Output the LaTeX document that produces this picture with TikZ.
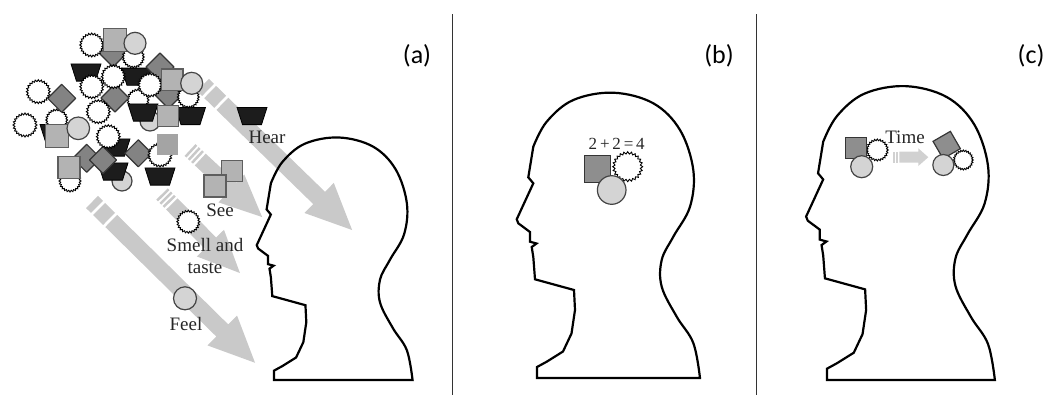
\documentclass[tikz,border=0pt]{standalone}
\usepackage{fontspec}
\setmainfont{Liberation Serif}
\newfontfamily\panelfont{Carlito}
\usetikzlibrary{calc}

\definecolor{sensegray}{HTML}{C9C9C9}
\definecolor{sqfill}{HTML}{B3B3B3}
\definecolor{sqline}{HTML}{5E5E5E}
\definecolor{sqdark}{HTML}{8E8E8E}
\definecolor{circfill}{HTML}{D4D4D4}
\definecolor{circline}{HTML}{444444}
\definecolor{diafill}{HTML}{838383}
\definecolor{dialine}{HTML}{353535}
\definecolor{trapfill}{HTML}{1C1C1C}
\definecolor{inkgray}{HTML}{262626}

\tikzset{
  headline/.style={draw=black, line width=2.2pt, line join=miter},
  gearline/.style={draw=black, line width=0.9pt, fill=white, line join=miter},
  sqshape/.style={draw=sqline, line width=1.2pt, fill=sqfill},
  sqdarkshape/.style={draw=dialine, line width=1.2pt, fill=sqdark},
  circshape/.style={draw=circline, line width=1.2pt, fill=circfill},
  diashape/.style={draw=dialine, line width=1.2pt, fill=diafill, line join=round},
  trapshape/.style={draw=black, line width=0.8pt, fill=trapfill},
  sensetext/.style={text=inkgray, font=\fontsize{19}{21}\selectfont, inner sep=0pt},
  paneltext/.style={font=\panelfont\fontsize{26}{30}\selectfont, inner sep=0pt},
  divider/.style={draw=black!80, line width=0.9pt}
}

% small shapes: centre x, centre y, size
\newcommand{\gearat}[3]{\draw[gearline, shift={(#1,#2)}] (0:#3)
  \foreach \k in {1,...,47}{ -- (\k*7.5:{#3*(1-0.15*mod(\k,2))}) } -- cycle;}
\newcommand{\sqat}[3]{\draw[sqshape, shift={(#1,#2)}] (-#3/2,-#3/2) rectangle (#3/2,#3/2);}
\newcommand{\circat}[3]{\draw[circshape] (#1,#2) circle[radius=#3];}
\newcommand{\diaat}[3]{\draw[diashape, shift={(#1,#2)}] (#3,0) -- (0,#3) -- (-#3,0) -- (0,-#3) -- cycle;}
\newcommand{\trapat}[2]{\draw[trapshape, shift={(#1,#2)}] (-15,-8.6) -- (15,-8.6) -- (9.5,8.6) -- (-9.5,8.6) -- cycle;}

% sense arrows: start x, start y, angle below horizontal, length
\newcommand{\bigsense}[4]{\begin{scope}[shift={(#1,#2)}, rotate=-#3]
  \fill[sensegray] (0,-8.5) rectangle (7,8.5);
  \fill[sensegray] (10,-8.5) rectangle (24,8.5);
  \fill[sensegray] (27,-8.5) -- (#4-46,-8.5) -- (#4-46,-21) -- (#4,0)
     -- (#4-46,21) -- (#4-46,8.5) -- (27,8.5) -- cycle;
\end{scope}}
\newcommand{\smallsense}[4]{\begin{scope}[shift={(#1,#2)}, rotate=-#3]
  \fill[sensegray] (0,-8) rectangle (2.5,8);
  \fill[sensegray] (4.5,-8) rectangle (7,8);
  \fill[sensegray] (9,-8) rectangle (11.5,8);
  \fill[sensegray] (14,-8) -- (#4-42,-8) -- (#4-42,-19) -- (#4,0)
     -- (#4-42,19) -- (#4-42,8) -- (14,8) -- cycle;
\end{scope}}

% head profile, local units, origin at the lower front corner, y upwards
\newcommand{\headpath}{(0,0) -- (0,11) -- (9.7,16.3) -- (26,26.5) -- (34.5,44.5)
  -- (38,68) -- (37,88) -- (-2,98.7) -- (-3.7,121) -- (-5.3,131) -- (-0.5,134.5)
  -- (-7,136.3) -- (-7,146) -- (-18.7,154.7) -- (-20.3,158.7) -- (-3.7,194.7)
  -- (-8.7,200.7) -- (-3.7,231.3)
  -- plot[smooth, tension=0.6] coordinates {(-3.7,231.3) (9.7,256.3) (36.3,278)
     (76.3,285.3) (116.3,274.7) (143,248) (156.3,208) (153,171.3) (136.3,141.3)
     (124.7,118) (124.7,91.3) (139.7,61.3) (156.3,35) (163,0)} -- cycle}
\newcommand{\headat}[3]{\begin{scope}[shift={(#1,#2)}, yscale=-1, scale=#3]
  \draw[headline] \headpath;
\end{scope}}

\begin{document}
\begin{tikzpicture}[x=1pt, y=-1pt]
\useasboundingbox (0,0) rectangle (1054,397);

% panel dividers
\draw[divider] (452,14) -- (452,395);
\draw[divider] (756,14) -- (756,395);

% panel labels
\node[paneltext] (labA) at (417,56) {(a)};
\node[paneltext] (labB) at (719,56) {(b)};
\node[paneltext] (labC) at (1031,56) {(c)};

% ---------- panel (a): the senses ----------
\bigsense{203}{85}{44.2}{208}
\smallsense{190}{150}{42.9}{98.5}
\smallsense{162}{194}{45.4}{111}
\bigsense{92}{202}{44.6}{229}

\headat{274}{380}{0.85}

% crowd of impressions
\circat{150}{121}{10}
\circat{122}{181}{10}
\gearat{56.7}{120}{11}
\gearat{70}{181}{11}
\gearat{138}{100}{11}

\trapat{86}{72.5}
\trapat{136.5}{76.7}
\trapat{143}{112.5}
\trapat{190.5}{116}
\trapat{115}{147.5}
\trapat{113}{171.5}
\trapat{160}{176.5}
\trapat{55}{133}

\diaat{113}{52}{15}
\diaat{160}{67}{14}
\diaat{61.7}{98.3}{14}
\diaat{115}{98}{14}
\diaat{168.5}{95}{13.5}
\diaat{86.7}{158.3}{14}
\diaat{103}{160}{13.5}
\diaat{138.3}{153.3}{13.5}

\gearat{91.7}{45}{12}
\gearat{133.3}{57}{11}
\gearat{91.7}{86.7}{12}
\gearat{113.3}{76.7}{12}
\gearat{150}{85}{12}
\gearat{188.3}{97}{11}
\gearat{38.3}{91.7}{12}
\gearat{98.3}{111.7}{12}
\gearat{25}{125}{12}
\gearat{108.3}{136.7}{12}
\gearat{160}{155}{12}

\sqat{114.7}{40}{23}
\sqat{172.2}{79.7}{21.5}
\sqat{168}{116}{21.5}
\sqat{56.7}{136}{23}
\sqat{69}{167.5}{22}
\fill[sqdark!80, shift={(167.5,144)}] (-10.5,-10.5) rectangle (10.5,10.5);

\circat{135}{43.3}{11}
\circat{191.7}{83.3}{11}
\circat{78.3}{128.3}{11.3}

% individual senses
\trapat{252}{116}
\node[sensetext] (hear) at (267,137) {Hear};
\sqat{232.2}{170.8}{21}
\sqat{215}{186}{22}
\node[sensetext] (see) at (220,210) {See};
\gearat{188.3}{221.7}{11.5}
\node[sensetext] (smell) at (205,244.5) {Smell and};
\node[sensetext] (taste) at (205,268.5) {taste};
\circat{185}{298.3}{11.5}
\node[sensetext] (feel) at (186,323.5) {Feel};

% ---------- panel (b): thinking ----------
\headat{537}{378}{1.0}
\node[sensetext, font=\fontsize{17}{19}\selectfont] (sum) at (616.7,143.5) {2\,+\,2\,=\,4};
\gearat{627.7}{166.7}{15}
\draw[sqdarkshape, shift={(597.8,168.8)}] (-13,-13.5) rectangle (13,13.5);
\circat{611.7}{190}{14.3}

% ---------- panel (c): change over time ----------
\headat{827}{380}{1.03}
\gearat{877.3}{150}{11}
\draw[sqdarkshape, shift={(856,147.8)}] (-10.3,-10.5) rectangle (10.3,10.5);
\circat{861.7}{166.7}{11}

\node[sensetext] (time) at (905,137.3) {Time};
\fill[sensegray!85] (893,151.7) rectangle (894.6,162.7);
\fill[sensegray!85] (896.2,151.7) rectangle (897.8,162.7);
\fill[sensegray!85] (899.4,151.7) -- (918.3,151.7) -- (918.3,148.3) -- (928.3,157.2)
   -- (918.3,166) -- (918.3,162.7) -- (899.4,162.7) -- cycle;

\draw[sqdarkshape, shift={(946.7,145)}, rotate=30] (-10,-10) rectangle (10,10);
\gearat{963.3}{160}{10}
\circat{943.3}{165}{10.5}
\end{tikzpicture}
\end{document}
